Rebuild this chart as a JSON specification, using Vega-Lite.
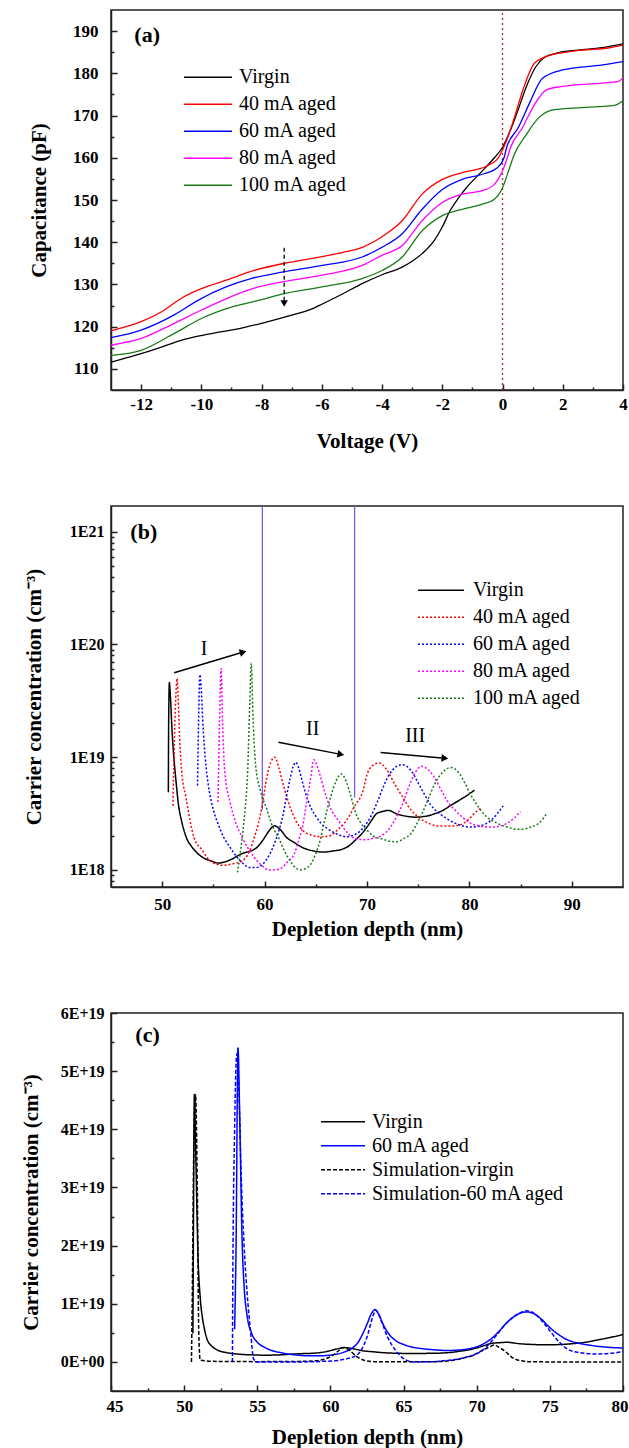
{
  "$schema": "https://vega.github.io/schema/vega-lite/v6.json",
  "background": "white",
  "padding": {"left": 19, "top": 8, "right": 6, "bottom": 2},
  "spacing": 53,
  "config": {
    "font": "Liberation Serif",
    "view": {"stroke": "#222222", "strokeWidth": 1.5},
    "axis": {"labelFont": "Liberation Serif", "labelFontWeight": "bold", "labelColor": "black", "titleFont": "Liberation Serif", "titleFontWeight": "bold", "titleFontSize": 21, "titleColor": "black", "domainColor": "#222222", "domainWidth": 1.5, "tickColor": "#222222", "tickWidth": 1.5, "grid": false, "labelFlush": false, "labelOverlap": false},
    "legend": {"labelFont": "Liberation Serif", "labelFontSize": 20, "labelColor": "black", "labelLimit": 0},
    "text": {"font": "Liberation Serif"}
  },
  "resolve": {"scale": {"x": "independent", "y": "independent", "color": "independent", "strokeDash": "independent"}, "legend": {"color": "independent", "strokeDash": "independent"}},
  "datasets": {
    "cv": [
      {"s":"Virgin","V":-13,"C":111.6},{"s":"Virgin","V":-12.5,"C":112.6},{"s":"Virgin","V":-12,"C":113.6},{"s":"Virgin","V":-11.3,"C":115.2},{"s":"Virgin","V":-10.65,"C":116.8},{"s":"Virgin","V":-10,"C":117.9},{"s":"Virgin","V":-9.32,"C":118.8},{"s":"Virgin","V":-8.6,"C":119.8},{"s":"Virgin","V":-8,"C":120.8},{"s":"Virgin","V":-7.06,"C":122.6},{"s":"Virgin","V":-6.26,"C":124.4},{"s":"Virgin","V":-6,"C":125.3},{"s":"Virgin","V":-5.3,"C":127.8},{"s":"Virgin","V":-4.66,"C":130.2},{"s":"Virgin","V":-4,"C":132.3},{"s":"Virgin","V":-3.33,"C":134.1},{"s":"Virgin","V":-2.67,"C":137.3},{"s":"Virgin","V":-2.27,"C":140.4},{"s":"Virgin","V":-2.0,"C":143.6},{"s":"Virgin","V":-1.74,"C":147.5},{"s":"Virgin","V":-1.45,"C":150.6},{"s":"Virgin","V":-1.2,"C":152.9},{"s":"Virgin","V":-0.67,"C":156.9},{"s":"Virgin","V":-0.27,"C":160},{"s":"Virgin","V":0,"C":162.5},{"s":"Virgin","V":0.26,"C":166.5},{"s":"Virgin","V":0.5,"C":171},{"s":"Virgin","V":0.8,"C":177},{"s":"Virgin","V":1.1,"C":181.5},{"s":"Virgin","V":1.4,"C":183.8},{"s":"Virgin","V":1.8,"C":184.8},{"s":"Virgin","V":2.5,"C":185.5},{"s":"Virgin","V":3.3,"C":186.1},{"s":"Virgin","V":4,"C":187.0},
      {"s":"40 mA aged","V":-13,"C":119.0},{"s":"40 mA aged","V":-12.5,"C":120.0},{"s":"40 mA aged","V":-12,"C":121.2},{"s":"40 mA aged","V":-11.3,"C":123.6},{"s":"40 mA aged","V":-10.65,"C":126.8},{"s":"40 mA aged","V":-10,"C":129.0},{"s":"40 mA aged","V":-9.18,"C":131.0},{"s":"40 mA aged","V":-8.3,"C":133.2},{"s":"40 mA aged","V":-7.32,"C":134.9},{"s":"40 mA aged","V":-6.6,"C":135.8},{"s":"40 mA aged","V":-5.99,"C":136.6},{"s":"40 mA aged","V":-5.3,"C":137.6},{"s":"40 mA aged","V":-4.66,"C":138.8},{"s":"40 mA aged","V":-4.2,"C":140.4},{"s":"40 mA aged","V":-3.86,"C":142.0},{"s":"40 mA aged","V":-3.33,"C":145.1},{"s":"40 mA aged","V":-2.67,"C":151.4},{"s":"40 mA aged","V":-2.0,"C":154.9},{"s":"40 mA aged","V":-1.34,"C":156.5},{"s":"40 mA aged","V":-0.54,"C":158.0},{"s":"40 mA aged","V":-0.14,"C":160},{"s":"40 mA aged","V":0.1,"C":163.5},{"s":"40 mA aged","V":0.39,"C":169.4},{"s":"40 mA aged","V":0.66,"C":175.7},{"s":"40 mA aged","V":1.06,"C":182.4},{"s":"40 mA aged","V":1.59,"C":184.3},{"s":"40 mA aged","V":2.65,"C":185.5},{"s":"40 mA aged","V":3.5,"C":186.0},{"s":"40 mA aged","V":4,"C":186.7},
      {"s":"60 mA aged","V":-13,"C":117.4},{"s":"60 mA aged","V":-12,"C":119.2},{"s":"60 mA aged","V":-10.9,"C":122.8},{"s":"60 mA aged","V":-10.1,"C":126.3},{"s":"60 mA aged","V":-9.18,"C":129.4},{"s":"60 mA aged","V":-8.3,"C":131.5},{"s":"60 mA aged","V":-7.32,"C":132.9},{"s":"60 mA aged","V":-5.99,"C":134.5},{"s":"60 mA aged","V":-4.66,"C":136.5},{"s":"60 mA aged","V":-4.0,"C":138.8},{"s":"60 mA aged","V":-3.33,"C":142.0},{"s":"60 mA aged","V":-2.67,"C":147.8},{"s":"60 mA aged","V":-2.0,"C":152.5},{"s":"60 mA aged","V":-1.34,"C":154.9},{"s":"60 mA aged","V":-0.67,"C":156.1},{"s":"60 mA aged","V":-0.2,"C":157.5},{"s":"60 mA aged","V":0.05,"C":160},{"s":"60 mA aged","V":0.13,"C":162.3},{"s":"60 mA aged","V":0.52,"C":167.1},{"s":"60 mA aged","V":0.92,"C":173.3},{"s":"60 mA aged","V":1.32,"C":178.8},{"s":"60 mA aged","V":1.99,"C":180.8},{"s":"60 mA aged","V":3.32,"C":182.0},{"s":"60 mA aged","V":4,"C":182.8},
      {"s":"80 mA aged","V":-13,"C":115.6},{"s":"80 mA aged","V":-12,"C":117.2},{"s":"80 mA aged","V":-10.9,"C":120.8},{"s":"80 mA aged","V":-9.98,"C":124.0},{"s":"80 mA aged","V":-9.18,"C":126.6},{"s":"80 mA aged","V":-8.3,"C":129.0},{"s":"80 mA aged","V":-7.32,"C":130.6},{"s":"80 mA aged","V":-5.99,"C":132.2},{"s":"80 mA aged","V":-4.66,"C":134.5},{"s":"80 mA aged","V":-4.0,"C":136.9},{"s":"80 mA aged","V":-3.33,"C":139.2},{"s":"80 mA aged","V":-2.67,"C":145.1},{"s":"80 mA aged","V":-2.0,"C":149.4},{"s":"80 mA aged","V":-1.34,"C":151.4},{"s":"80 mA aged","V":-0.67,"C":152.2},{"s":"80 mA aged","V":-0.27,"C":153.7},{"s":"80 mA aged","V":0,"C":156.9},{"s":"80 mA aged","V":0.16,"C":160},{"s":"80 mA aged","V":0.26,"C":162.3},{"s":"80 mA aged","V":0.66,"C":167.1},{"s":"80 mA aged","V":1.06,"C":172.6},{"s":"80 mA aged","V":1.46,"C":176.1},{"s":"80 mA aged","V":1.99,"C":176.9},{"s":"80 mA aged","V":3.32,"C":177.7},{"s":"80 mA aged","V":3.85,"C":178.1},{"s":"80 mA aged","V":4,"C":179.0},
      {"s":"100 mA aged","V":-13,"C":113.2},{"s":"100 mA aged","V":-12,"C":114.4},{"s":"100 mA aged","V":-10.9,"C":118.4},{"s":"100 mA aged","V":-9.98,"C":122.0},{"s":"100 mA aged","V":-8.92,"C":124.8},{"s":"100 mA aged","V":-7.99,"C":126.4},{"s":"100 mA aged","V":-7.32,"C":127.7},{"s":"100 mA aged","V":-5.99,"C":129.4},{"s":"100 mA aged","V":-4.66,"C":131.4},{"s":"100 mA aged","V":-4.0,"C":133.3},{"s":"100 mA aged","V":-3.33,"C":136.5},{"s":"100 mA aged","V":-2.67,"C":142.7},{"s":"100 mA aged","V":-2.0,"C":146.3},{"s":"100 mA aged","V":-1.34,"C":147.8},{"s":"100 mA aged","V":-0.67,"C":149.0},{"s":"100 mA aged","V":-0.27,"C":150.2},{"s":"100 mA aged","V":0,"C":152.9},{"s":"100 mA aged","V":0.2,"C":156.9},{"s":"100 mA aged","V":0.39,"C":160.8},{"s":"100 mA aged","V":0.79,"C":165.5},{"s":"100 mA aged","V":1.19,"C":169.4},{"s":"100 mA aged","V":1.72,"C":171.4},{"s":"100 mA aged","V":2.65,"C":171.9},{"s":"100 mA aged","V":3.72,"C":172.4},{"s":"100 mA aged","V":4,"C":173.5}
    ],
    "depth": [
      {"s":"Virgin","d":50.6,"n":4.9e18},{"s":"Virgin","d":50.63,"n":2.0e19},{"s":"Virgin","d":50.7,"n":4.6e19},{"s":"Virgin","d":50.8,"n":3.5e19},{"s":"Virgin","d":50.95,"n":1.8e19},{"s":"Virgin","d":51.1,"n":1.1e19},{"s":"Virgin","d":51.25,"n":7.6e18},{"s":"Virgin","d":51.4,"n":5.5e18},{"s":"Virgin","d":51.57,"n":3.9e18},{"s":"Virgin","d":51.9,"n":2.7e18},{"s":"Virgin","d":52.35,"n":1.95e18},{"s":"Virgin","d":52.9,"n":1.6e18},{"s":"Virgin","d":53.5,"n":1.39e18},{"s":"Virgin","d":54.1,"n":1.27e18},{"s":"Virgin","d":54.7,"n":1.21e18},{"s":"Virgin","d":55.5,"n":1.15e18},{"s":"Virgin","d":56.26,"n":1.19e18},{"s":"Virgin","d":56.9,"n":1.26e18},{"s":"Virgin","d":57.4,"n":1.34e18},{"s":"Virgin","d":58.0,"n":1.42e18},{"s":"Virgin","d":58.8,"n":1.49e18},{"s":"Virgin","d":59.3,"n":1.6e18},{"s":"Virgin","d":59.8,"n":1.82e18},{"s":"Virgin","d":60.4,"n":2.2e18},{"s":"Virgin","d":60.96,"n":2.46e18},{"s":"Virgin","d":61.5,"n":2.3e18},{"s":"Virgin","d":62.13,"n":1.95e18},{"s":"Virgin","d":62.9,"n":1.75e18},{"s":"Virgin","d":63.7,"n":1.58e18},{"s":"Virgin","d":64.7,"n":1.48e18},{"s":"Virgin","d":65.66,"n":1.44e18},{"s":"Virgin","d":66.6,"n":1.47e18},{"s":"Virgin","d":67.6,"n":1.53e18},{"s":"Virgin","d":68.3,"n":1.65e18},{"s":"Virgin","d":68.8,"n":1.82e18},{"s":"Virgin","d":69.4,"n":2.05e18},{"s":"Virgin","d":70.0,"n":2.4e18},{"s":"Virgin","d":70.5,"n":2.8e18},{"s":"Virgin","d":70.94,"n":3.16e18},{"s":"Virgin","d":71.5,"n":3.3e18},{"s":"Virgin","d":72.1,"n":3.37e18},{"s":"Virgin","d":72.9,"n":3.14e18},{"s":"Virgin","d":73.8,"n":3.0e18},{"s":"Virgin","d":74.66,"n":2.94e18},{"s":"Virgin","d":75.8,"n":3.0e18},{"s":"Virgin","d":76.6,"n":3.15e18},{"s":"Virgin","d":77.4,"n":3.37e18},{"s":"Virgin","d":78.2,"n":3.75e18},{"s":"Virgin","d":78.96,"n":4.12e18},{"s":"Virgin","d":79.8,"n":4.6e18},{"s":"Virgin","d":80.5,"n":5.1e18},
      {"s":"40 mA aged","d":51.05,"n":3.7e18},{"s":"40 mA aged","d":51.2,"n":1.5e19},{"s":"40 mA aged","d":51.35,"n":3.8e19},{"s":"40 mA aged","d":51.45,"n":5.0e19},{"s":"40 mA aged","d":51.55,"n":3.5e19},{"s":"40 mA aged","d":51.7,"n":1.5e19},{"s":"40 mA aged","d":51.9,"n":7.6e18},{"s":"40 mA aged","d":52.3,"n":4.5e18},{"s":"40 mA aged","d":53.1,"n":1.95e18},{"s":"40 mA aged","d":53.9,"n":1.5e18},{"s":"40 mA aged","d":54.7,"n":1.2e18},{"s":"40 mA aged","d":55.9,"n":1.1e18},{"s":"40 mA aged","d":56.8,"n":1.13e18},{"s":"40 mA aged","d":57.8,"n":1.2e18},{"s":"40 mA aged","d":58.5,"n":1.45e18},{"s":"40 mA aged","d":59.0,"n":1.95e18},{"s":"40 mA aged","d":59.4,"n":2.6e18},{"s":"40 mA aged","d":59.8,"n":3.9e18},{"s":"40 mA aged","d":60.2,"n":6.5e18},{"s":"40 mA aged","d":60.6,"n":9.0e18},{"s":"40 mA aged","d":61.0,"n":1.0e19},{"s":"40 mA aged","d":61.4,"n":8.0e18},{"s":"40 mA aged","d":61.8,"n":5.8e18},{"s":"40 mA aged","d":62.5,"n":3.6e18},{"s":"40 mA aged","d":63.0,"n":2.8e18},{"s":"40 mA aged","d":63.7,"n":2.25e18},{"s":"40 mA aged","d":64.5,"n":2.05e18},{"s":"40 mA aged","d":65.5,"n":1.97e18},{"s":"40 mA aged","d":66.3,"n":2.0e18},{"s":"40 mA aged","d":67.2,"n":2.3e18},{"s":"40 mA aged","d":68.0,"n":2.75e18},{"s":"40 mA aged","d":68.8,"n":3.7e18},{"s":"40 mA aged","d":69.6,"n":5.0e18},{"s":"40 mA aged","d":70.0,"n":7.0e18},{"s":"40 mA aged","d":70.6,"n":8.5e18},{"s":"40 mA aged","d":71.2,"n":8.9e18},{"s":"40 mA aged","d":71.9,"n":7.8e18},{"s":"40 mA aged","d":72.7,"n":5.8e18},{"s":"40 mA aged","d":73.5,"n":4.4e18},{"s":"40 mA aged","d":74.3,"n":3.4e18},{"s":"40 mA aged","d":75.0,"n":2.95e18},{"s":"40 mA aged","d":76.0,"n":2.6e18},{"s":"40 mA aged","d":77.0,"n":2.45e18},{"s":"40 mA aged","d":78.0,"n":2.45e18},{"s":"40 mA aged","d":79.0,"n":2.5e18},{"s":"40 mA aged","d":80.0,"n":2.85e18},{"s":"40 mA aged","d":80.5,"n":3.2e18},{"s":"40 mA aged","d":81.1,"n":3.5e18},
      {"s":"60 mA aged","d":53.45,"n":5.6e18},{"s":"60 mA aged","d":53.55,"n":2.0e19},{"s":"60 mA aged","d":53.68,"n":5.4e19},{"s":"60 mA aged","d":53.8,"n":4.2e19},{"s":"60 mA aged","d":53.95,"n":2.2e19},{"s":"60 mA aged","d":54.1,"n":1.3e19},{"s":"60 mA aged","d":54.3,"n":8.0e18},{"s":"60 mA aged","d":54.6,"n":5.0e18},{"s":"60 mA aged","d":55.0,"n":3.4e18},{"s":"60 mA aged","d":55.5,"n":2.5e18},{"s":"60 mA aged","d":56.0,"n":1.95e18},{"s":"60 mA aged","d":56.6,"n":1.6e18},{"s":"60 mA aged","d":57.3,"n":1.3e18},{"s":"60 mA aged","d":58.0,"n":1.12e18},{"s":"60 mA aged","d":58.5,"n":1.05e18},{"s":"60 mA aged","d":59.2,"n":1.05e18},{"s":"60 mA aged","d":59.8,"n":1.12e18},{"s":"60 mA aged","d":60.5,"n":1.38e18},{"s":"60 mA aged","d":61.0,"n":1.75e18},{"s":"60 mA aged","d":61.5,"n":2.4e18},{"s":"60 mA aged","d":61.9,"n":3.4e18},{"s":"60 mA aged","d":62.2,"n":4.8e18},{"s":"60 mA aged","d":62.5,"n":6.5e18},{"s":"60 mA aged","d":62.8,"n":8.3e18},{"s":"60 mA aged","d":63.05,"n":9.0e18},{"s":"60 mA aged","d":63.3,"n":8.2e18},{"s":"60 mA aged","d":63.6,"n":6.5e18},{"s":"60 mA aged","d":64.0,"n":4.8e18},{"s":"60 mA aged","d":64.5,"n":3.6e18},{"s":"60 mA aged","d":65.0,"n":3.0e18},{"s":"60 mA aged","d":65.5,"n":2.6e18},{"s":"60 mA aged","d":66.2,"n":2.3e18},{"s":"60 mA aged","d":67.0,"n":2.1e18},{"s":"60 mA aged","d":68.0,"n":1.97e18},{"s":"60 mA aged","d":69.0,"n":2.1e18},{"s":"60 mA aged","d":69.7,"n":2.4e18},{"s":"60 mA aged","d":70.3,"n":2.9e18},{"s":"60 mA aged","d":71.0,"n":4.0e18},{"s":"60 mA aged","d":71.5,"n":5.2e18},{"s":"60 mA aged","d":72.0,"n":6.6e18},{"s":"60 mA aged","d":72.5,"n":7.7e18},{"s":"60 mA aged","d":73.0,"n":8.4e18},{"s":"60 mA aged","d":73.4,"n":8.6e18},{"s":"60 mA aged","d":73.9,"n":8.3e18},{"s":"60 mA aged","d":74.4,"n":7.4e18},{"s":"60 mA aged","d":75.0,"n":5.9e18},{"s":"60 mA aged","d":75.6,"n":4.7e18},{"s":"60 mA aged","d":76.2,"n":3.8e18},{"s":"60 mA aged","d":77.0,"n":3.2e18},{"s":"60 mA aged","d":77.8,"n":2.85e18},{"s":"60 mA aged","d":78.6,"n":2.6e18},{"s":"60 mA aged","d":79.4,"n":2.45e18},{"s":"60 mA aged","d":80.2,"n":2.4e18},{"s":"60 mA aged","d":81.0,"n":2.45e18},{"s":"60 mA aged","d":82.1,"n":2.75e18},{"s":"60 mA aged","d":83.3,"n":3.7e18},
      {"s":"80 mA aged","d":55.45,"n":4.0e18},{"s":"80 mA aged","d":55.6,"n":2.0e19},{"s":"80 mA aged","d":55.75,"n":6.1e19},{"s":"80 mA aged","d":55.9,"n":2.0e19},{"s":"80 mA aged","d":56.1,"n":7.6e18},{"s":"80 mA aged","d":56.65,"n":3.9e18},{"s":"80 mA aged","d":57.2,"n":2.6e18},{"s":"80 mA aged","d":57.8,"n":1.95e18},{"s":"80 mA aged","d":58.4,"n":1.55e18},{"s":"80 mA aged","d":59.0,"n":1.29e18},{"s":"80 mA aged","d":59.7,"n":1.1e18},{"s":"80 mA aged","d":60.4,"n":1.0e18},{"s":"80 mA aged","d":61.0,"n":1.0e18},{"s":"80 mA aged","d":61.7,"n":1.05e18},{"s":"80 mA aged","d":62.3,"n":1.2e18},{"s":"80 mA aged","d":62.9,"n":1.38e18},{"s":"80 mA aged","d":63.3,"n":1.8e18},{"s":"80 mA aged","d":63.7,"n":2.4e18},{"s":"80 mA aged","d":64.1,"n":4.0e18},{"s":"80 mA aged","d":64.5,"n":6.5e18},{"s":"80 mA aged","d":64.8,"n":9.5e18},{"s":"80 mA aged","d":65.1,"n":8.5e18},{"s":"80 mA aged","d":65.4,"n":7.0e18},{"s":"80 mA aged","d":66.0,"n":4.5e18},{"s":"80 mA aged","d":66.6,"n":3.3e18},{"s":"80 mA aged","d":67.2,"n":2.75e18},{"s":"80 mA aged","d":67.8,"n":2.3e18},{"s":"80 mA aged","d":68.4,"n":2.0e18},{"s":"80 mA aged","d":69.1,"n":1.88e18},{"s":"80 mA aged","d":69.8,"n":1.85e18},{"s":"80 mA aged","d":70.5,"n":1.9e18},{"s":"80 mA aged","d":71.1,"n":1.95e18},{"s":"80 mA aged","d":71.7,"n":2.1e18},{"s":"80 mA aged","d":72.3,"n":2.4e18},{"s":"80 mA aged","d":72.9,"n":3.0e18},{"s":"80 mA aged","d":73.5,"n":3.9e18},{"s":"80 mA aged","d":74.0,"n":5.2e18},{"s":"80 mA aged","d":74.6,"n":7.0e18},{"s":"80 mA aged","d":75.3,"n":8.3e18},{"s":"80 mA aged","d":76.0,"n":7.7e18},{"s":"80 mA aged","d":76.5,"n":6.8e18},{"s":"80 mA aged","d":77.3,"n":5.0e18},{"s":"80 mA aged","d":78.0,"n":3.9e18},{"s":"80 mA aged","d":78.6,"n":3.4e18},{"s":"80 mA aged","d":79.4,"n":2.9e18},{"s":"80 mA aged","d":80.1,"n":2.6e18},{"s":"80 mA aged","d":81.0,"n":2.45e18},{"s":"80 mA aged","d":82.1,"n":2.4e18},{"s":"80 mA aged","d":83.0,"n":2.45e18},{"s":"80 mA aged","d":83.7,"n":2.6e18},{"s":"80 mA aged","d":84.4,"n":2.9e18},{"s":"80 mA aged","d":85.0,"n":3.3e18},
      {"s":"100 mA aged","d":57.35,"n":9.5e17},{"s":"100 mA aged","d":57.8,"n":1.9e18},{"s":"100 mA aged","d":58.1,"n":3.5e18},{"s":"100 mA aged","d":58.35,"n":7.6e18},{"s":"100 mA aged","d":58.55,"n":3.0e19},{"s":"100 mA aged","d":58.7,"n":6.8e19},{"s":"100 mA aged","d":58.85,"n":2.5e19},{"s":"100 mA aged","d":59.1,"n":9.0e18},{"s":"100 mA aged","d":59.6,"n":5.0e18},{"s":"100 mA aged","d":60.2,"n":3.5e18},{"s":"100 mA aged","d":60.8,"n":2.4e18},{"s":"100 mA aged","d":61.35,"n":1.95e18},{"s":"100 mA aged","d":61.9,"n":1.5e18},{"s":"100 mA aged","d":62.5,"n":1.2e18},{"s":"100 mA aged","d":63.0,"n":1.05e18},{"s":"100 mA aged","d":63.5,"n":1.0e18},{"s":"100 mA aged","d":64.0,"n":1.03e18},{"s":"100 mA aged","d":64.5,"n":1.12e18},{"s":"100 mA aged","d":65.0,"n":1.4e18},{"s":"100 mA aged","d":65.4,"n":1.8e18},{"s":"100 mA aged","d":65.8,"n":2.6e18},{"s":"100 mA aged","d":66.1,"n":3.4e18},{"s":"100 mA aged","d":66.5,"n":4.6e18},{"s":"100 mA aged","d":67.0,"n":6.2e18},{"s":"100 mA aged","d":67.5,"n":7.1e18},{"s":"100 mA aged","d":68.0,"n":6.0e18},{"s":"100 mA aged","d":68.4,"n":4.6e18},{"s":"100 mA aged","d":68.8,"n":3.4e18},{"s":"100 mA aged","d":69.4,"n":2.6e18},{"s":"100 mA aged","d":70.0,"n":2.25e18},{"s":"100 mA aged","d":70.7,"n":1.98e18},{"s":"100 mA aged","d":71.5,"n":1.88e18},{"s":"100 mA aged","d":72.2,"n":1.8e18},{"s":"100 mA aged","d":72.9,"n":1.78e18},{"s":"100 mA aged","d":73.6,"n":1.9e18},{"s":"100 mA aged","d":74.3,"n":2.1e18},{"s":"100 mA aged","d":74.9,"n":2.6e18},{"s":"100 mA aged","d":75.4,"n":3.2e18},{"s":"100 mA aged","d":76.0,"n":4.3e18},{"s":"100 mA aged","d":76.6,"n":5.75e18},{"s":"100 mA aged","d":77.3,"n":7.2e18},{"s":"100 mA aged","d":78.2,"n":8.1e18},{"s":"100 mA aged","d":79.0,"n":7.2e18},{"s":"100 mA aged","d":79.6,"n":5.8e18},{"s":"100 mA aged","d":80.1,"n":4.7e18},{"s":"100 mA aged","d":80.9,"n":3.6e18},{"s":"100 mA aged","d":81.7,"n":2.95e18},{"s":"100 mA aged","d":82.7,"n":2.6e18},{"s":"100 mA aged","d":83.7,"n":2.4e18},{"s":"100 mA aged","d":84.5,"n":2.3e18},{"s":"100 mA aged","d":85.2,"n":2.3e18},{"s":"100 mA aged","d":86.0,"n":2.4e18},{"s":"100 mA aged","d":86.8,"n":2.6e18},{"s":"100 mA aged","d":87.6,"n":3.2e18},
      {"s":"Simulation-virgin","d":50.5,"n":0},{"s":"Simulation-virgin","d":50.55,"n":1.0e19},{"s":"Simulation-virgin","d":50.65,"n":3.5e19},{"s":"Simulation-virgin","d":50.78,"n":4.6e19},{"s":"Simulation-virgin","d":50.9,"n":3.0e19},{"s":"Simulation-virgin","d":51.0,"n":5e18},{"s":"Simulation-virgin","d":51.1,"n":3e17},{"s":"Simulation-virgin","d":52,"n":1e17},{"s":"Simulation-virgin","d":55,"n":5e16},{"s":"Simulation-virgin","d":58,"n":1e17},{"s":"Simulation-virgin","d":59,"n":2e17},{"s":"Simulation-virgin","d":59.5,"n":4e17},{"s":"Simulation-virgin","d":60.0,"n":9e17},{"s":"Simulation-virgin","d":60.5,"n":1.8e18},{"s":"Simulation-virgin","d":60.9,"n":2.5e18},{"s":"Simulation-virgin","d":61.3,"n":2.0e18},{"s":"Simulation-virgin","d":61.8,"n":9e17},{"s":"Simulation-virgin","d":62.3,"n":3e17},{"s":"Simulation-virgin","d":63,"n":5e16},{"s":"Simulation-virgin","d":67,"n":3e16},{"s":"Simulation-virgin","d":68.4,"n":3e17},{"s":"Simulation-virgin","d":69.0,"n":6e17},{"s":"Simulation-virgin","d":69.8,"n":1.2e18},{"s":"Simulation-virgin","d":70.4,"n":2.0e18},{"s":"Simulation-virgin","d":70.9,"n":2.6e18},{"s":"Simulation-virgin","d":71.2,"n":2.9e18},{"s":"Simulation-virgin","d":71.6,"n":2.4e18},{"s":"Simulation-virgin","d":72.0,"n":1.7e18},{"s":"Simulation-virgin","d":72.4,"n":8e17},{"s":"Simulation-virgin","d":72.85,"n":3e17},{"s":"Simulation-virgin","d":73.7,"n":2e16},{"s":"Simulation-virgin","d":76,"n":0},{"s":"Simulation-virgin","d":80,"n":0},
      {"s":"Simulation-60 mA aged","d":53.3,"n":0},{"s":"Simulation-60 mA aged","d":53.33,"n":1.5e19},{"s":"Simulation-60 mA aged","d":53.45,"n":4.0e19},{"s":"Simulation-60 mA aged","d":53.6,"n":5.3e19},{"s":"Simulation-60 mA aged","d":53.75,"n":4.6e19},{"s":"Simulation-60 mA aged","d":53.9,"n":3.2e19},{"s":"Simulation-60 mA aged","d":54.1,"n":2.0e19},{"s":"Simulation-60 mA aged","d":54.3,"n":1.2e19},{"s":"Simulation-60 mA aged","d":54.55,"n":5e18},{"s":"Simulation-60 mA aged","d":54.75,"n":5e17},{"s":"Simulation-60 mA aged","d":55.0,"n":0},{"s":"Simulation-60 mA aged","d":58,"n":0},{"s":"Simulation-60 mA aged","d":59.5,"n":1e17},{"s":"Simulation-60 mA aged","d":60.5,"n":2.5e17},{"s":"Simulation-60 mA aged","d":61.0,"n":5e17},{"s":"Simulation-60 mA aged","d":61.6,"n":9e17},{"s":"Simulation-60 mA aged","d":62.1,"n":2.0e18},{"s":"Simulation-60 mA aged","d":62.5,"n":4.3e18},{"s":"Simulation-60 mA aged","d":62.9,"n":7.8e18},{"s":"Simulation-60 mA aged","d":63.1,"n":8.9e18},{"s":"Simulation-60 mA aged","d":63.5,"n":6.9e18},{"s":"Simulation-60 mA aged","d":63.9,"n":4.3e18},{"s":"Simulation-60 mA aged","d":64.45,"n":2.0e18},{"s":"Simulation-60 mA aged","d":65.1,"n":4e17},{"s":"Simulation-60 mA aged","d":65.7,"n":0},{"s":"Simulation-60 mA aged","d":67.0,"n":5e16},{"s":"Simulation-60 mA aged","d":67.6,"n":1.7e17},{"s":"Simulation-60 mA aged","d":69.0,"n":6.3e17},{"s":"Simulation-60 mA aged","d":70.4,"n":2.0e18},{"s":"Simulation-60 mA aged","d":71.2,"n":4.1e18},{"s":"Simulation-60 mA aged","d":72.0,"n":6.6e18},{"s":"Simulation-60 mA aged","d":72.85,"n":8.3e18},{"s":"Simulation-60 mA aged","d":73.4,"n":8.8e18},{"s":"Simulation-60 mA aged","d":74.1,"n":8.0e18},{"s":"Simulation-60 mA aged","d":74.8,"n":6.0e18},{"s":"Simulation-60 mA aged","d":75.5,"n":3.8e18},{"s":"Simulation-60 mA aged","d":76.15,"n":2.3e18},{"s":"Simulation-60 mA aged","d":77.0,"n":1.6e18},{"s":"Simulation-60 mA aged","d":78.1,"n":1.37e18},{"s":"Simulation-60 mA aged","d":79.2,"n":1.49e18},{"s":"Simulation-60 mA aged","d":80.0,"n":1.77e18}
    ]
  },
  "vconcat": [
    {
      "width": 512, "height": 380,
      "encoding": {
        "x": {"field": "V", "type": "quantitative", "scale": {"domain": [-13, 4], "nice": false, "zero": false},
          "axis": {"title": "Voltage (V)", "values": [-12,-11,-10,-9,-8,-7,-6,-5,-4,-3,-2,-1,0,1,2,3,4], "labelExpr": "datum.value % 2 === 0 ? '' + datum.value : ''", "labelFont": "Liberation Serif", "titleFont": "Liberation Serif", "labelFontSize": 17, "tickSize": {"condition": {"test": "datum.value % 2 === 0", "value": -6}, "value": -3}, "labelPadding": 12, "titlePadding": 15}},
        "y": {"field": "C", "type": "quantitative", "scale": {"domain": [105, 195], "nice": false, "zero": false},
          "axis": {"title": "Capacitance (pF)", "values": [110,115,120,125,130,135,140,145,150,155,160,165,170,175,180,185,190], "labelExpr": "datum.value % 10 === 0 ? '' + datum.value : ''", "labelFont": "Liberation Serif", "titleFont": "Liberation Serif", "labelFontSize": 17, "tickSize": {"condition": {"test": "datum.value % 10 === 0", "value": -6}, "value": -3}, "labelPadding": 19, "titlePadding": 23}}
      },
      "layer": [
        {"data": {"values": [{"V": 0, "C": 105, "C2": 195}]}, "mark": {"type": "rule", "color": "#a83232", "strokeDash": [2, 3], "strokeWidth": 1.3}, "encoding": {"y2": {"field": "C2"}}},
        {"data": {"name": "cv"}, "mark": {"type": "line", "strokeWidth": 1.3, "interpolate": "monotone", "clip": true},
          "encoding": {"color": {"field": "s", "type": "nominal", "scale": {"domain": ["Virgin", "40 mA aged", "60 mA aged", "80 mA aged", "100 mA aged"], "range": ["#000000", "#ff0000", "#0000ff", "#ff00ff", "#1a7a1a"]},
            "legend": {"title": null, "orient": "none", "legendX": 72, "legendY": 54, "symbolType": "stroke", "symbolSize": 2304, "symbolStrokeWidth": 1.5, "clipHeight": 26.4, "rowPadding": 0, "labelOffset": 6, "padding": 0, "labelFontSize": 20, "labelFont": "Liberation Serif", "labelLimit": 0}}}},
        {"data": {"values": [{"V": -7.25, "C": 138.7, "C2": 126.2}]}, "mark": {"type": "rule", "color": "black", "strokeDash": [4, 3], "strokeWidth": 1.3}, "encoding": {"y2": {"field": "C2"}}},
        {"data": {"values": [{"V": -7.25, "C": 125.5}]}, "mark": {"type": "point", "shape": "triangle-down", "filled": true, "color": "black", "size": 55, "opacity": 1}},
        {"data": {"values": [{"t": "(a)", "V": -11.8, "C": 189.1}]}, "mark": {"type": "text", "fontSize": 22, "fontWeight": "bold", "font": "Liberation Serif", "color": "black"}, "encoding": {"text": {"field": "t"}}}
      ]
    },
    {
      "width": 512, "height": 381,
      "encoding": {
        "x": {"field": "d", "type": "quantitative", "scale": {"domain": [45, 95], "nice": false, "zero": false},
          "axis": {"title": "Depletion depth (nm)", "values": [50,55,60,65,70,75,80,85,90], "labelExpr": "datum.value % 10 === 0 ? '' + datum.value : ''", "labelFont": "Liberation Serif", "titleFont": "Liberation Serif", "labelFontSize": 17, "tickSize": {"condition": {"test": "datum.value % 10 === 0", "value": -6}, "value": -3}, "labelPadding": 15, "titlePadding": 3}},
        "y": {"field": "n", "type": "quantitative", "scale": {"type": "log", "domain": [7.06e17, 1.69e21], "nice": false},
          "axis": {"title": "Carrier concentration (cm⁻³)", "values": [8e17,9e17,1e18,2e18,3e18,4e18,5e18,6e18,7e18,8e18,9e18,1e19,2e19,3e19,4e19,5e19,6e19,7e19,8e19,9e19,1e20,2e20,3e20,4e20,5e20,6e20,7e20,8e20,9e20,1e21], "labelExpr": "abs(log(datum.value)/LN10 - round(log(datum.value)/LN10)) < 0.001 ? '1E' + round(log(datum.value)/LN10) : ''", "labelFont": "Liberation Serif", "titleFont": "Liberation Serif", "labelFontSize": 16, "tickSize": {"condition": {"test": "abs(log(datum.value)/LN10 - round(log(datum.value)/LN10)) < 0.001", "value": -6}, "value": -3}, "labelPadding": 13, "titlePadding": 25}}
      },
      "layer": [
        {"data": {"values": [{"d": 59.78, "n": 3.4e18, "n2": 1.69e21}, {"d": 68.79, "n": 4.4e18, "n2": 1.69e21}]}, "mark": {"type": "rule", "color": "#7b5cf0", "strokeWidth": 1.3, "clip": true}, "encoding": {"y2": {"field": "n2"}}},
        {"data": {"name": "depth"}, "transform": [{"filter": {"field": "s", "oneOf": ["Virgin", "40 mA aged", "60 mA aged", "80 mA aged", "100 mA aged"]}}],
          "mark": {"type": "line", "strokeWidth": 1.5, "interpolate": "monotone", "clip": true},
          "encoding": {
            "color": {"field": "s", "type": "nominal", "scale": {"domain": ["Virgin", "40 mA aged", "60 mA aged", "80 mA aged", "100 mA aged"], "range": ["#000000", "#ff0000", "#0000ff", "#ff00ff", "#1a7a1a"]},
              "legend": {"title": null, "orient": "none", "legendX": 306, "legendY": 71, "symbolType": "stroke", "symbolSize": 2116, "symbolStrokeWidth": 1.5, "clipHeight": 26.5, "rowPadding": 0, "labelOffset": 8, "padding": 0, "labelFontSize": 20, "labelFont": "Liberation Serif", "labelLimit": 0}},
            "strokeDash": {"field": "s", "type": "nominal", "scale": {"domain": ["Virgin", "40 mA aged", "60 mA aged", "80 mA aged", "100 mA aged"], "range": [[1, 0], [2, 2], [2, 2], [2, 2], [2, 2]]},
              "legend": {"title": null, "orient": "none", "legendX": 306, "legendY": 71, "symbolType": "stroke", "symbolSize": 2116, "symbolStrokeWidth": 1.5, "clipHeight": 26.5, "rowPadding": 0, "labelOffset": 8, "padding": 0, "labelFontSize": 20, "labelFont": "Liberation Serif", "labelLimit": 0}}
          }},
        {"data": {"values": [{"d": 51.17, "n": 5.6e19, "d2": 57.6, "n2": 8.4e19}, {"d": 61.35, "n": 1.36e19, "d2": 67.2, "n2": 1.07e19}, {"d": 71.33, "n": 1.1e19, "d2": 77.3, "n2": 9.85e18}]}, "mark": {"type": "rule", "color": "black", "strokeWidth": 1.5}, "encoding": {"x2": {"field": "d2"}, "y2": {"field": "n2"}}},
        {"data": {"values": [{"d": 57.9, "n": 8.55e19}]}, "mark": {"type": "point", "shape": "triangle-right", "filled": true, "color": "black", "size": 60, "opacity": 1, "angle": 344}},
        {"data": {"values": [{"d": 67.45, "n": 1.06e19}]}, "mark": {"type": "point", "shape": "triangle-right", "filled": true, "color": "black", "size": 60, "opacity": 1, "angle": 11}},
        {"data": {"values": [{"d": 77.6, "n": 9.8e18}]}, "mark": {"type": "point", "shape": "triangle-right", "filled": true, "color": "black", "size": 60, "opacity": 1, "angle": 5}},
        {"data": {"values": [{"t": "I", "d": 54.1, "n": 9.2e19}, {"t": "II", "d": 64.7, "n": 1.78e19}, {"t": "III", "d": 74.7, "n": 1.55e19}]}, "mark": {"type": "text", "fontSize": 20, "font": "Liberation Serif", "color": "black"}, "encoding": {"text": {"field": "t"}}},
        {"data": {"values": [{"t": "(b)", "d": 48.2, "n": 1e21}]}, "mark": {"type": "text", "fontSize": 22, "fontWeight": "bold", "font": "Liberation Serif", "color": "black"}, "encoding": {"text": {"field": "t"}}}
      ]
    },
    {
      "width": 512, "height": 378,
      "title": {"text": " ", "fontSize": 11, "offset": 0},
      "encoding": {
        "x": {"field": "d", "type": "quantitative", "scale": {"domain": [45, 80], "nice": false, "zero": false},
          "axis": {"title": "Depletion depth (nm)", "values": [45,47.5,50,52.5,55,57.5,60,62.5,65,67.5,70,72.5,75,77.5,80], "labelExpr": "datum.value % 5 === 0 ? '' + datum.value : ''", "labelFont": "Liberation Serif", "titleFont": "Liberation Serif", "labelFontSize": 17, "labelFlush": true, "labelFlushOffset": 5, "tickSize": {"condition": {"test": "datum.value % 5 === 0", "value": -6}, "value": -3}, "labelPadding": 13.5, "titlePadding": 9}},
        "y": {"field": "n", "type": "quantitative", "scale": {"domain": [-5e18, 6e19], "nice": false, "zero": false},
          "axis": {"title": "Carrier concentration (cm⁻³)", "values": [0,5e18,1e19,1.5e19,2e19,2.5e19,3e19,3.5e19,4e19,4.5e19,5e19,5.5e19,6e19], "labelExpr": "datum.value === 0 ? '0E+00' : (abs(datum.value/1e19 - round(datum.value/1e19)) < 0.001 ? round(datum.value/1e19) + 'E+19' : '')", "labelFont": "Liberation Serif", "titleFont": "Liberation Serif", "labelFontSize": 16, "tickSize": {"condition": {"test": "abs(datum.value/1e19 - round(datum.value/1e19)) < 0.001", "value": -6}, "value": -3}, "labelPadding": 13, "titlePadding": 19}}
      },
      "layer": [
        {"data": {"name": "depth"}, "transform": [{"filter": {"field": "s", "oneOf": ["Virgin", "60 mA aged", "Simulation-virgin", "Simulation-60 mA aged"]}}],
          "mark": {"type": "line", "strokeWidth": 1.5, "interpolate": "monotone", "clip": true},
          "encoding": {
            "color": {"field": "s", "type": "nominal", "scale": {"domain": ["Virgin", "60 mA aged", "Simulation-virgin", "Simulation-60 mA aged"], "range": ["#000000", "#0000ff", "#000000", "#0000ff"]},
              "legend": {"title": null, "orient": "none", "legendX": 209, "legendY": 97, "symbolType": "stroke", "symbolSize": 1936, "symbolStrokeWidth": 1.5, "clipHeight": 23.5, "rowPadding": 0, "labelOffset": 6, "padding": 0, "labelFontSize": 20, "labelFont": "Liberation Serif", "labelLimit": 0}},
            "strokeDash": {"field": "s", "type": "nominal", "scale": {"domain": ["Virgin", "60 mA aged", "Simulation-virgin", "Simulation-60 mA aged"], "range": [[1, 0], [1, 0], [4, 2], [4, 2]]},
              "legend": {"title": null, "orient": "none", "legendX": 209, "legendY": 97, "symbolType": "stroke", "symbolSize": 1936, "symbolStrokeWidth": 1.5, "clipHeight": 23.5, "rowPadding": 0, "labelOffset": 6, "padding": 0, "labelFontSize": 20, "labelFont": "Liberation Serif", "labelLimit": 0}}
          }},
        {"data": {"values": [{"t": "(c)", "d": 47.5, "n": 5.63e19}]}, "mark": {"type": "text", "fontSize": 22, "fontWeight": "bold", "font": "Liberation Serif", "color": "black"}, "encoding": {"text": {"field": "t"}}}
      ]
    }
  ]
}
